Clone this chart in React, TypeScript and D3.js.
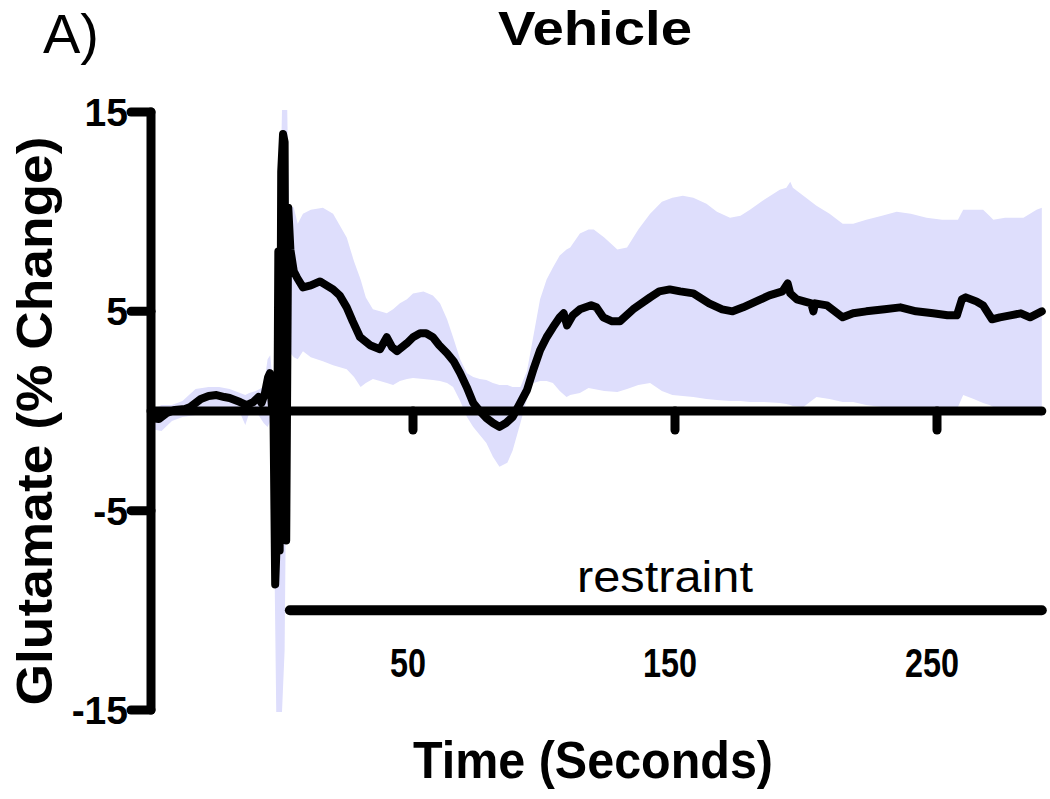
import React, { useMemo } from 'react'
import * as d3 from 'd3'

// mean glutamate trace (time in s, value in % change)
const meanTime = [
  -50, -47, -44, -41, -37, -35, -31, -28, -25, -22, -20, -16, -13.5, -11, -9, -7.8, -6.5, -5.3, -4.6, -3.9,
  -3.3, -2.6, -2.0, -1.4, -0.9, -0.3, 0.4, 1.0, 1.6, 2.4, 3.2, 4.5, 5.7, 8, 11, 14.5, 17, 19.5, 22, 24.7,
  27, 29.8, 33.6, 37.4, 40, 42, 43.9, 47.7, 50, 52.7, 55, 57.6, 60, 63, 65.5, 68, 70.5, 73, 75.5, 78,
  80.5, 83, 85.5, 88, 90.5, 93.5, 96, 98.5, 101, 103.4, 106, 107.5, 108.8, 111, 113.7, 118, 120, 122.6, 126, 129,
  134, 140.5, 144, 148, 152, 157, 163, 168, 172, 176, 181, 186, 191, 193, 194, 196.5, 202, 202.8, 203.5, 208,
  214, 218, 223, 230, 236, 242, 248.5, 254, 257.6, 259.5, 261, 265, 267.6, 271, 274, 278, 282, 285.5, 290
]
const meanValue = [
  -0.35, -0.4, -0.1, 0.05, 0.1, 0.2, 0.6, 0.75, 0.8, 0.7, 0.65, 0.45, 0.3, 0.45, 0.7, 0.4, 0.9, 1.7, 1.9, 0.3,
  0.5, -8.7, -6.5, 8.0, -7.0, 12.0, 13.9, 13.5, -6.5, 10.2, 8.1, 7.0, 6.7, 6.2, 6.3, 6.5, 6.3, 6.1, 5.8, 5.2,
  4.5, 3.7, 3.3, 3.1, 3.7, 3.2, 3.0, 3.4, 3.7, 3.9, 3.9, 3.7, 3.3, 2.9, 2.5, 1.9, 1.2, 0.4, 0.0, -0.35,
  -0.6, -0.8, -0.6, -0.3, 0.3, 1.05, 2.1, 3.05, 3.7, 4.2, 4.7, 4.9, 4.3, 4.8, 5.1, 5.3, 5.2, 4.7, 4.5, 4.5,
  5.1, 5.7, 6.0, 6.1, 6.0, 5.9, 5.4, 5.1, 5.0, 5.2, 5.5, 5.8, 6.0, 6.4, 5.9, 5.6, 5.4, 5.0, 5.4, 5.3,
  4.7, 4.9, 5.0, 5.1, 5.2, 5.0, 4.9, 4.8, 4.8, 5.6, 5.7, 5.5, 5.3, 4.6, 4.7, 4.8, 4.9, 4.7, 5.0
]

// SEM band
const bandTime = [
  -50, -46, -42, -38, -33, -28, -24, -20, -16, -14, -12.5, -10, -7, -5.5, -4.5, -3.5, -2.2, 0, 1, 2,
  2.6, 4.5, 6, 8, 11, 15.6, 19.5, 24.7, 27.5, 30, 32, 34.7, 37.4, 40, 42.4, 45, 47.7, 50, 54, 57.6,
  60.3, 63, 65.3, 68, 70.6, 73, 75.5, 78, 80.5, 83, 86, 88, 91, 93.5, 96, 98.5, 101, 103.4, 106, 108.6,
  110, 113.7, 117, 119, 123, 128, 131.7, 136, 140.5, 145, 149, 153, 157, 162, 166, 171, 175, 178.6, 184, 190,
  192.5, 194, 195, 199, 204, 209, 214, 218, 223, 229, 234.6, 240, 246, 252, 258, 260, 264, 267.6, 270, 271.5,
  276, 283, 288, 290
]
const bandUpper = [
  0.0, 0.3, 0.3, 0.5, 1.1, 1.2, 1.2, 1.1, 0.9, 0.8, 0.9, 1.0, 1.2, 2.6, 2.8, 1.5, 1.0, 15.1, 15.1, 15.1,
  10.4, 10.2, 9.4, 9.9, 10.1, 10.2, 9.9, 8.7, 7.5, 6.6, 5.7, 5.1, 5.0, 4.9, 5.1, 5.4, 5.6, 5.9, 6.0, 5.8,
  5.4, 4.6, 3.7, 2.6, 1.9, 1.7, 1.6, 1.55, 1.4, 1.3, 1.3, 1.2, 1.2, 2.0, 3.8, 5.6, 6.6, 7.2, 7.8, 8.1,
  8.2, 8.9, 9.1, 9.1, 8.7, 8.1, 8.2, 9.1, 9.9, 10.5, 10.7, 10.8, 10.7, 10.4, 10.0, 9.7, 9.8, 10.1, 10.6, 11.1,
  11.2, 11.5, 11.2, 10.8, 10.3, 9.9, 9.4, 9.4, 9.6, 9.8, 10.0, 9.9, 9.7, 9.6, 9.6, 10.1, 10.1, 10.1, 9.8, 9.6,
  9.7, 9.7, 10.1, 10.2
]
const bandLower = [
  -0.9, -1.0, -0.5, -0.3, -0.2, 0.0, 0.1, 0.0, -0.1, -0.7, -0.1, 0.0, -0.6, -0.8, -0.5, -0.8, -15.1, -15.1, -12, 2.5,
  3.0, 2.7, 2.6, 3.0, 2.7, 2.5, 2.3, 2.1, 1.7, 1.2, 1.4, 1.6, 1.5, 1.4, 1.3, 1.5, 1.6, 1.65, 1.6, 1.55,
  1.5, 1.4, 1.2, 0.5, -0.3, -0.8, -1.2, -1.6, -2.3, -2.8, -2.6, -2.0, -0.6, 0.6, 1.4, 1.5, 1.5, 1.4, 1.0, 0.7,
  0.8, 0.9, 1.15, 1.1, 1.0, 0.95, 1.1, 1.3, 1.4, 1.0, 0.8, 0.75, 0.7, 0.6, 0.55, 0.5, 0.5, 0.45, 0.45, 0.4,
  0.35, 0.3, 0.25, 0.2, 0.7, 0.6, 0.45, 0.45, 0.3, 0.2, 0.15, 0.15, 0.15, 0.15, 0.2, 0.8, 0.6, 0.4, 0.3, 0.2,
  0.15, 0.1, -0.1, -0.3
]

const yTicks = [-15, -5, 5, 15]
const xTicks = [50, 150, 250]
const restraintSpan = [3, 290]
const restraintLevel = -10

const font = '"Liberation Sans", Arial, Helvetica, sans-serif'

export default function App() {
  const width = 1050
  const height = 799

  const chart = useMemo(() => {
    const xScale = d3.scaleLinear().domain([-50, 290]).range([151, 151 + 340 * 2.62])
    const yScale = d3.scaleLinear().domain([-15, 15]).range([710, 112])
    const meanPoints = meanTime.map((t, i) => [t, meanValue[i]] as [number, number])
    const bandPoints = bandTime.map((t, i) => ({ t, hi: bandUpper[i], lo: bandLower[i] }))
    const line = d3.line<[number, number]>().x(d => xScale(d[0])).y(d => yScale(d[1])).curve(d3.curveLinear)
    const area = d3.area<{ t: number, hi: number, lo: number }>()
      .x(d => xScale(d.t))
      .y0(d => yScale(d.lo))
      .y1(d => yScale(d.hi))
      .curve(d3.curveLinear)
    return { xScale, yScale, linePath: line(meanPoints), areaPath: area(bandPoints) }
  }, [])

  const { xScale, yScale } = chart
  const x0 = xScale(-50)
  const x1 = xScale(290)

  return (
    <svg width={width} height={height} viewBox={`0 0 ${width} ${height}`}
      style={{ position: 'absolute', left: 0, top: 0, background: '#fff' }} fontFamily={font}>
      <text x={43} y={53} fontSize={56} fill="#000">A)</text>
      <text x={595} y={45} fontSize={48} fontWeight="bold" textAnchor="middle" textLength={194} lengthAdjust="spacingAndGlyphs">Vehicle</text>

      {chart.areaPath && <path d={chart.areaPath} fill="#dedefc" stroke="none" />}

      {/* y axis */}
      <line x1={x0} x2={x0} y1={yScale(15)} y2={yScale(-15)} stroke="#000" strokeWidth={9} strokeLinecap="round" />
      {yTicks.map(tick => (
        <g key={`y_${tick}`}>
          <line x1={x0 - 20} x2={x0} y1={yScale(tick)} y2={yScale(tick)} stroke="#000" strokeWidth={9} strokeLinecap="round" />
          <text x={128} y={yScale(tick)} dy="0.36em" textAnchor="end" fontSize={39} fontWeight="bold">{tick}</text>
        </g>
      ))}

      {/* x axis at zero */}
      <line x1={x0} x2={x1} y1={yScale(0)} y2={yScale(0)} stroke="#000" strokeWidth={9} strokeLinecap="round" />
      {xTicks.map(tick => (
        <g key={`x_${tick}`}>
          <line x1={xScale(tick)} x2={xScale(tick)} y1={yScale(0)} y2={yScale(0) + 19} stroke="#000" strokeWidth={9} strokeLinecap="round" />
          <text x={xScale(tick) - 5} y={677} textAnchor="middle" fontSize={41} fontWeight="bold"
            textLength={String(tick).length * 18} lengthAdjust="spacingAndGlyphs">{tick}</text>
        </g>
      ))}

      {chart.linePath && <path d={chart.linePath} fill="none" stroke="#000" strokeWidth={8} strokeLinejoin="round" strokeLinecap="round" />}

      {/* restraint bar */}
      <line x1={xScale(restraintSpan[0])} x2={xScale(restraintSpan[1])} y1={yScale(restraintLevel)} y2={yScale(restraintLevel)}
        stroke="#000" strokeWidth={10} strokeLinecap="round" />
      <text x={665} y={592} textAnchor="middle" fontSize={44} textLength={176} lengthAdjust="spacingAndGlyphs">restraint</text>

      <text x={593} y={778} textAnchor="middle" fontSize={52} fontWeight="bold" textLength={360} lengthAdjust="spacingAndGlyphs">Time (Seconds)</text>
      <text transform="translate(52,421) rotate(-90)" textAnchor="middle" fontSize={50} fontWeight="bold"
        textLength={569} lengthAdjust="spacingAndGlyphs">Glutamate (% Change)</text>
    </svg>
  )
}
